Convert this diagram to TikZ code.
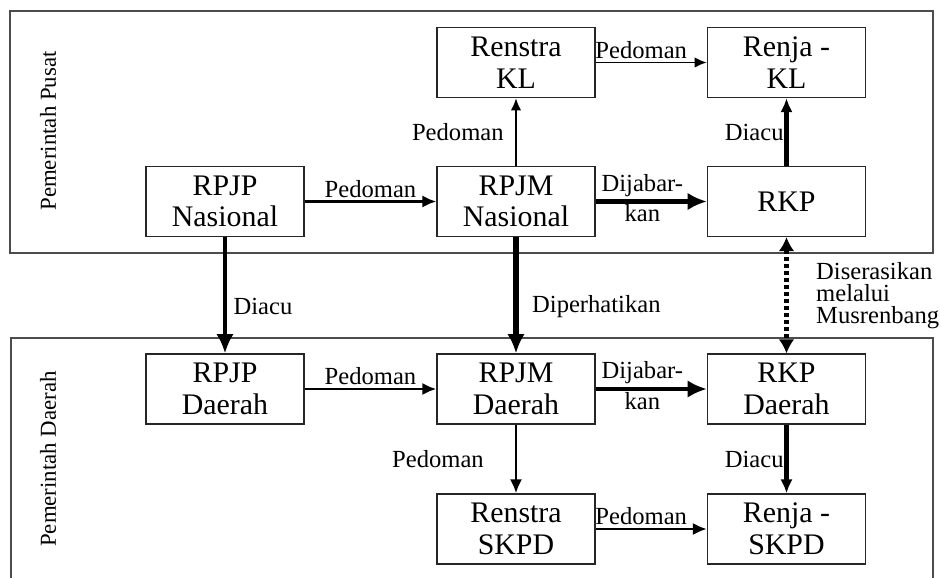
\documentclass[tikz,border=0pt]{standalone}
\usepackage{fontspec}
\setmainfont{Liberation Serif}
\usetikzlibrary{arrows.meta, positioning}

\begin{document}
\begin{tikzpicture}[
    x=0.02cm, y=-0.02cm,
    doc/.style={draw=black!85, line width=0.7pt, minimum width=3.16cm, minimum height=1.4cm, inner sep=0pt, align=center, font=\fontsize{17}{18}\selectfont},
    lbl/.style={font=\fontsize{14}{12.5}\selectfont, inner sep=1.5pt},
    side/.style={rotate=90, font=\fontsize{13}{15}\selectfont},
    panel/.style={draw=black!70, line width=0.9pt},
    lightarrow/.style={-{Latex[length=7pt, width=6pt]}, line width=1.1pt},
    midarrow/.style={-{Latex[length=8pt, width=7pt]}, line width=1.7pt},
    heavyarrow/.style={-{Latex[length=11pt, width=10pt]}, line width=2.8pt},
    boldarrow/.style={-{Latex[length=11pt, width=10pt]}, line width=3.4pt},
    dotarrow/.style={{Latex[length=8pt, width=9pt]}-{Latex[length=8pt, width=9pt]}, line width=2.8pt, dash pattern=on 2.3pt off 1.7pt}
]
    \useasboundingbox (0,0) rectangle (941,578);

    % Panels
    \draw[panel] (10,11) rectangle (933,253);
    \draw[panel] (11,600) -- (11,338) -- (933,338) -- (933,600);
    \node[side] (pusat) at (48,131) {Pemerintah Pusat};
    \node[side] (daerah) at (48,459) {Pemerintah Daerah};

    % Pusat
    \node[doc] (rpjpnas) at (225,201.5) {RPJP\\Nasional};
    \node[doc] (rpjmnas) at (516,201.5) {RPJM\\Nasional};
    \node[doc] (rkp) at (786.5,201.5) {RKP};
    \node[doc] (renstrakl) at (516,62.5) {Renstra\\KL};
    \node[doc] (renjakl) at (786.5,62.5) {Renja -\\KL};

    % Daerah
    \node[doc] (rpjpda) at (225,389) {RPJP\\Daerah};
    \node[doc] (rpjmda) at (516,389) {RPJM\\Daerah};
    \node[doc] (rkpda) at (786.5,389) {RKP\\Daerah};
    \node[doc] (renstraskpd) at (516,529) {Renstra\\SKPD};
    \node[doc] (renjaskpd) at (786.5,529) {Renja -\\SKPD};

    % Connections pusat
    \draw[midarrow] (rpjpnas) -- (rpjmnas) node[midway, above, lbl] {Pedoman};
    \draw[lightarrow] (rpjmnas) -- (renstrakl) node[midway, left=5pt, lbl] {Pedoman};
    \draw[lightarrow] (renstrakl) -- (renjakl) node[pos=0.41, above, lbl] {Pedoman};
    \draw[heavyarrow] (rpjmnas) -- (rkp) node[pos=0.42, above, lbl] {Dijabar-} node[pos=0.42, below=-1pt, lbl] {kan};
    \draw[midarrow, line width=2.3pt] (rkp) -- (renjakl) node[midway, left=-1pt, lbl] {Diacu};

    % Connections between levels
    \draw[heavyarrow] (rpjpnas) -- (rpjpda) node[pos=0.6, right=2pt, lbl] {Diacu};
    \draw[boldarrow] (rpjmnas) -- (rpjmda) node[pos=0.6, right=6pt, lbl] {Diperhatikan};
    \draw[dotarrow] (rkp) -- (rkpda) node[midway, right=14pt, lbl, align=left] {Diserasikan\\melalui\\Musrenbang};

    % Connections daerah
    \draw[midarrow] (rpjpda) -- (rpjmda) node[midway, above, lbl] {Pedoman};
    \draw[heavyarrow] (rpjmda) -- (rkpda) node[pos=0.42, above, lbl] {Dijabar-} node[pos=0.42, below=-1pt, lbl] {kan};
    \draw[midarrow] (rpjmda) -- (renstraskpd) node[midway, left=16pt, lbl] {Pedoman};
    \draw[midarrow, line width=2.3pt] (rkpda) -- (renjaskpd) node[midway, left=-1pt, lbl] {Diacu};
    \draw[midarrow] (renstraskpd) -- (renjaskpd) node[pos=0.41, above, lbl] {Pedoman};
\end{tikzpicture}
\end{document}
